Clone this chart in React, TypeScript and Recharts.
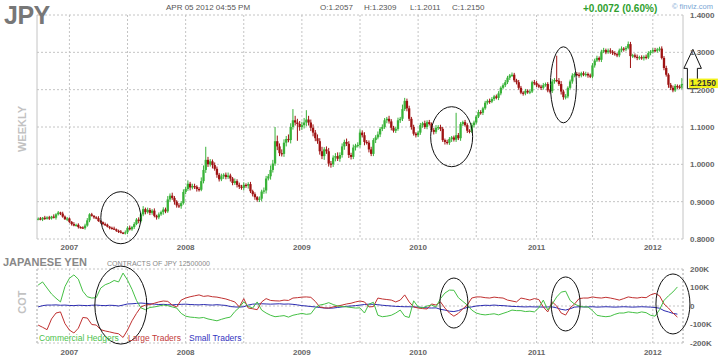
import React from "react";
import {
  ComposedChart, LineChart, Bar, Line, XAxis, YAxis, CartesianGrid,
  ReferenceLine, ReferenceDot,
} from "recharts";

const FONT = '"Liberation Sans", Arial, sans-serif';

// weekly closes of JPY futures, one array per calendar year (first week: 2006-09-29)
const close2006 = [0.855, 0.852, 0.857, 0.854, 0.858, 0.855, 0.860, 0.857, 0.866, 0.871, 0.868, 0.860, 0.853, 0.855];
const close2007 = [
  0.846, 0.840, 0.836, 0.838, 0.832, 0.831, 0.829, 0.836, 0.850, 0.866, 0.862, 0.858, 0.856, 0.848, 0.845, 0.840,
  0.838, 0.833, 0.830, 0.828, 0.826, 0.822, 0.820, 0.817, 0.816, 0.818, 0.830, 0.826, 0.832, 0.840, 0.852, 0.848,
  0.866, 0.880, 0.872, 0.878, 0.870, 0.876, 0.862, 0.858, 0.866, 0.872, 0.879, 0.874, 0.906, 0.916, 0.910, 0.900,
  0.890, 0.888, 0.896, 0.926,
];
const close2008 = [
  0.934, 0.948, 0.938, 0.942, 0.940, 0.934, 0.932, 0.955, 0.985, 1.012, 1.000, 1.008, 0.998, 0.988, 0.972, 0.960,
  0.968, 0.972, 0.966, 0.970, 0.962, 0.950, 0.955, 0.945, 0.940, 0.937, 0.945, 0.943, 0.947, 0.928, 0.920, 0.912,
  0.905, 0.908, 0.927, 0.930, 0.962, 0.968, 0.985, 1.002, 1.062, 1.048, 1.030, 1.028, 1.058, 1.068, 1.065, 1.100,
  1.118, 1.112, 1.108, 1.100,
];
const close2009 = [
  1.105, 1.112, 1.120, 1.112, 1.098, 1.085, 1.070, 1.062, 1.035, 1.022, 1.040, 1.035, 1.002, 1.000, 1.018, 1.022,
  1.015, 1.025, 1.048, 1.060, 1.055, 1.025, 1.020, 1.045, 1.050, 1.052, 1.085, 1.078, 1.060, 1.058, 1.040, 1.028,
  1.065, 1.072, 1.080, 1.095, 1.100, 1.118, 1.122, 1.115, 1.098, 1.090, 1.095, 1.118, 1.122, 1.148, 1.170, 1.150,
  1.122, 1.100, 1.082, 1.078,
];
const close2010 = [
  1.085, 1.105, 1.110, 1.100, 1.113, 1.108, 1.092, 1.087, 1.098, 1.100, 1.095, 1.065, 1.060, 1.058, 1.068, 1.072,
  1.066, 1.078, 1.070, 1.108, 1.113, 1.105, 1.090, 1.088, 1.105, 1.112, 1.128, 1.140, 1.138, 1.150, 1.165, 1.170,
  1.168, 1.175, 1.182, 1.178, 1.190, 1.205, 1.212, 1.220, 1.232, 1.238, 1.240, 1.225, 1.220, 1.205, 1.192, 1.190,
  1.197, 1.193, 1.195, 1.220, 1.218,
];
const close2011 = [
  1.212, 1.208, 1.205, 1.212, 1.215, 1.198, 1.196, 1.222, 1.226, 1.224, 1.215, 1.195, 1.180, 1.182, 1.205, 1.222,
  1.238, 1.242, 1.240, 1.238, 1.244, 1.240, 1.242, 1.238, 1.235, 1.265, 1.278, 1.285, 1.280, 1.302, 1.306, 1.300,
  1.305, 1.302, 1.298, 1.295, 1.292, 1.305, 1.310, 1.308, 1.312, 1.322, 1.290, 1.292, 1.288, 1.285, 1.287, 1.284,
  1.288, 1.286, 1.298, 1.302,
];
const close2012 = [1.306, 1.304, 1.308, 1.310, 1.285, 1.258, 1.240, 1.213, 1.205, 1.198, 1.210, 1.208, 1.206, 1.215];
const firstOpen = 0.853;

// wick lengths above / below the candle body, in 0.001
const wickUp = [
  3, 4, 2, 5, 3, 4, 2, 6, 3, 4, 2, 5, 3, 4, 3, 2, 5, 3, 4, 2, 3, 5, 6, 3, 4, 2, 3, 5, 3, 2,
  4, 3, 2, 3, 5, 2, 3, 4, 2, 5, 4, 6, 3, 5, 4, 6, 5, 8, 4, 6, 5, 4, 6, 3, 5, 4, 6, 5, 9, 6,
  8, 5, 4, 6, 5, 7, 6, 9, 5, 6, 6, 4, 5, 10, 12, 35, 8, 6, 5, 7, 6, 5, 7, 4, 6, 8, 5, 4, 7, 5,
  6, 5, 7, 4, 5, 6, 4, 5, 3, 6, 5, 8, 7, 6, 12, 10, 38, 15, 8, 10, 9, 8, 12, 10, 30, 12, 10, 8, 9, 12,
  25, 10, 8, 9, 7, 10, 8, 12, 6, 8, 9, 7, 6, 8, 10, 7, 8, 6, 9, 7, 6, 8, 5, 7, 9, 6, 8, 5, 6, 7,
  5, 6, 8, 5, 7, 6, 5, 8, 6, 5, 6, 7, 5, 12, 8, 6, 7, 5, 6, 4, 5, 6, 4, 7, 5, 6, 4, 5, 7, 5,
  6, 5, 4, 6, 5, 4, 5, 60, 6, 5, 4, 6, 5, 4, 6, 5, 4, 6, 5, 4, 5, 4, 6, 5, 4, 5, 6, 4, 5, 6,
  5, 4, 6, 5, 4, 6, 5, 4, 5, 4, 5, 4, 6, 5, 4, 5, 6, 4, 5, 4, 6, 5, 65, 7, 8, 5, 6, 4, 5, 6,
  4, 5, 6, 4, 5, 6, 4, 5, 6, 5, 6, 4, 5, 6, 4, 5, 6, 4, 5, 4, 5, 6, 4, 5, 7, 6, 4, 5, 6, 4,
  5, 4, 6, 5, 4, 5, 6, 4, 5, 6, 5, 6, 4, 5, 6, 5, 4, 5, 16,
];
const wickDown = [
  3, 2, 4, 3, 2, 4, 3, 2, 5, 3, 4, 3, 2, 5, 3, 4, 2, 3, 4, 3, 2, 4, 3, 5, 2, 4, 3, 2, 4, 3,
  3, 2, 4, 3, 2, 3, 4, 2, 3, 4, 5, 3, 4, 5, 3, 6, 4, 5, 6, 4, 6, 5, 4, 6, 5, 4, 7, 5, 4, 6,
  5, 8, 6, 5, 7, 4, 6, 5, 8, 5, 6, 7, 5, 4, 6, 8, 7, 6, 9, 5, 8, 6, 5, 7, 6, 5, 8, 6, 5, 7,
  6, 5, 7, 6, 8, 5, 6, 7, 5, 6, 7, 6, 8, 5, 9, 7, 6, 10, 8, 7, 8, 10, 6, 9, 7, 8, 45, 10, 8, 9,
  10, 8, 9, 10, 8, 7, 9, 8, 10, 7, 8, 9, 7, 10, 6, 8, 7, 9, 6, 8, 7, 6, 8, 5, 7, 6, 9, 5, 8, 6,
  6, 8, 5, 7, 6, 5, 8, 6, 7, 5, 6, 5, 7, 6, 5, 8, 6, 7, 5, 6, 5, 6, 7, 5, 6, 4, 5, 7, 5, 6,
  6, 5, 7, 5, 6, 8, 5, 6, 5, 7, 5, 4, 6, 5, 4, 6, 5, 4, 5, 6, 4, 5, 6, 4, 5, 4, 6, 5, 4, 5,
  5, 6, 4, 5, 6, 5, 4, 6, 5, 4, 5, 4, 6, 5, 4, 6, 5, 4, 5, 6, 5, 6, 4, 5, 8, 7, 6, 5, 4, 6,
  5, 4, 6, 5, 4, 5, 6, 4, 5, 6, 4, 5, 6, 4, 5, 4, 6, 5, 4, 5, 5, 4, 6, 5, 4, 32, 5, 4, 6, 5,
  4, 6, 5, 4, 6, 5, 4, 5, 6, 4, 6, 5, 8, 6, 5, 4, 6, 5, 5,
];

const priceTicks = [0.8, 0.9, 1.0, 1.1, 1.2, 1.3, 1.4];
const cotTicks = [-200, -100, 0, 100, 200];

// COT net positions, every second week, thousands of contracts
const commercialHedgers = [
  113, 130, 97, 65, 42, 22, 105, 150, 168, 145, 80, 50, 43, 45, 97, 115, 124, 138, 130, 178,
  140, 90, 30, -10, -20, -8, -5, 0, 5, 2, -5, -11, -40, -55, -60, -62, -65, -62, -70, -75,
  -80, -72, -65, -60, -30, -8, 22, -2, -11, 22, -22, -38, -50, -58, -55, -52, -60, -50, -45, -40,
  -45, -42, -10, 5, 10, 18, 8, 0, -3, -5, -8, -11, -10, -38, 10, 20, -50, -58, -55, -50,
  -38, -22, -55, -62, 28, -5, -10, 0, 5, -5, 40, 70, 86, 85, 45, 25, 5, -22, -38, -45,
  -48, -45, -42, -48, -40, -32, -22, -25, -25, -30, -28, -32, -10, 32, -22, 11, 49, 75, 80, 30,
  10, 0, -5, -5, -25, -50, -55, -58, -55, -45, -38, -38, -32, -35, -38, -32, -36, -50, -55, -20,
  30, 55, 76, 103,
];
const largeTraders = [
  -103, -115, -128, -70, -38, -32, -95, -130, -146, -120, -62, -65, -100, -103, -128, -135, -140, -146, -150, -170,
  -130, -80, -40, -5, 5, 8, 15, 22, 27, 25, 5, -5, 32, 43, 50, 55, 60, 52, 55, 50,
  48, 43, 38, 30, 22, -5, 40, -11, -15, -20, 22, 40, 30, 28, 27, 32, 30, 43, 45, 48,
  49, 47, 25, -5, -10, -11, -5, 0, 5, 11, 15, 22, 27, 22, -5, -3, 43, 38, 35, 32,
  22, 32, 60, 22, -5, -11, -14, -16, 11, 5, 22, -11, -38, -55, -40, -15, 5, 43, 49, 49,
  45, 43, 48, 45, 43, 32, 27, 22, 43, 38, 32, 40, 35, -5, -32, 22, 0, -38, -49, -10,
  11, 40, 43, 43, 49, 45, 43, 47, 43, 38, 32, 40, 49, 45, 43, 47, 45, 60, 68, 55,
  11, -11, -38, -60,
];
const smallTraders = [
  -5, 2, 5, 5, 6, 4, 5, 3, 2, 4, 3, 2, 4, 5, 3, 2, 4, 3, 0, 5,
  11, 12, 14, 16, 14, 12, 10, 8, 9, 7, 6, 8, 9, 10, 8, 7, 6, 8, 6, 5,
  7, 5, 3, -3, -5, -6, -4, 5, 10, 11, 12, 11, 10, 11, 12, 10, 11, 9, 6, 2,
  0, -3, -5, -8, -11, -12, -11, -8, -5, -2, 0, 2, 5, 8, 10, 9, 7, 4, 2, 0,
  -2, -3, -4, -4, -5, -6, -8, -10, -11, -10, -18, -22, -28, -30, -25, -15, -8, -5, 0, 2,
  4, 3, 5, 3, 2, 0, -2, -3, -4, -5, -4, -5, -5, -6, -5, -5, -10, -18, -22, -15,
  -6, -4, -5, -5, -4, -6, -5, -4, -5, -6, -5, -4, -5, -6, -5, -4, -5, -6, -8, -12,
  -25, -32, -40, -44,
];

const legendItems = [
  { label: "Commercial Hedgers", color: "#4cbf4c", x: 39 },
  { label: "Large Traders", color: "#c23a3a", x: 128 },
  { label: "Small Traders", color: "#3434c0", x: 189 },
];

// hand-drawn circles: week index, value, radii
const priceCircles = [
  { week: 37, value: 0.857, rx: 20, ry: 26 },
  { week: 185, value: 1.074, rx: 21, ry: 30 },
  { week: 235, value: 1.213, rx: 13, ry: 38 },
];
const cotCircles = [
  { week: 37, value: 5, rx: 26, ry: 39 },
  { week: 186, value: 16, rx: 14, ry: 25 },
  { week: 236, value: 11, rx: 14.5, ry: 27 },
  { week: 284, value: 11, rx: 17, ry: 30 },
];
const lastClose = 1.215;
const arrowTop = 1.308;
const arrowBottom = 1.2025;

const closes = [...close2006, ...close2007, ...close2008, ...close2009, ...close2010, ...close2011, ...close2012];
const weekDate = (i: number) => new Date(Date.UTC(2006, 8, 29 + 7 * i));
const lastWeek = closes.length - 1;

const candles = closes.map((c, i) => {
  const open = i === 0 ? firstOpen : closes[i - 1];
  return {
    idx: i,
    open,
    close: c,
    high: Math.max(open, c) + wickUp[i] / 1000,
    low: Math.min(open, c) - wickDown[i] / 1000,
  };
});

const cotData = commercialHedgers.map((v, k) => ({
  idx: 2 * k,
  commercial: v,
  large: largeTraders[k],
  small: smallTraders[k],
}));

const gridWeeks = closes
  .map((_, i) => i)
  .filter((i) => {
    const d = weekDate(i);
    return (d.getUTCMonth() === 0 || d.getUTCMonth() === 6) && d.getUTCDate() <= 7;
  });
const yearLabel = (i: number) => {
  const d = weekDate(Math.round(i));
  return d.getUTCMonth() === 0 ? String(d.getUTCFullYear()) : "";
};

const UP = "#38b238";
const DOWN = "#9e1212";
const GRID = "#c4c4c4";
const tickStyle = { fontSize: 8, fontWeight: "bold" as const, fill: "#666", fontFamily: FONT };

const Candle = (props: any) => {
  const { x, y, width, height, payload } = props;
  if (!payload || height == null) return null;
  const { open, close, high, low } = payload;
  const top = Math.min(y, y + height);
  const h = Math.abs(height);
  const k = h / (high - low);
  const yO = top + (high - open) * k;
  const yC = top + (high - close) * k;
  const color = close >= open ? UP : DOWN;
  const cx = x + width / 2;
  const bw = Math.max(width + 0.3, 2.1);
  return (
    <g>
      <line x1={cx} x2={cx} y1={top} y2={top + h} stroke={color} strokeWidth={1} />
      <rect x={cx - bw / 2} y={Math.min(yO, yC)} width={bw} height={Math.max(Math.abs(yC - yO), 1.2)} fill={color} />
    </g>
  );
};

const ellipse = (rx: number, ry: number) => (p: any) => (
  <ellipse cx={p.cx} cy={p.cy} rx={rx} ry={ry} fill="none" stroke="#111" strokeWidth={1} />
);

const Arrow = (p: any) => {
  const ax = Math.max(p.x1, p.x2) + 11;
  const yT = Math.min(p.y1, p.y2);
  const yB = Math.max(p.y1, p.y2);
  const pts = [
    [ax, yT], [ax + 8.5, yT + 19], [ax + 4.5, yT + 19], [ax + 4.5, yB],
    [ax - 5.5, yB], [ax - 5.5, yT + 19], [ax - 9, yT + 19],
  ].map((q) => q.join(",")).join(" ");
  return <polygon points={pts} fill="#fff" stroke="#111" strokeWidth={1} />;
};

const LastPrice = (p: any) => (
  <g>
    <rect x={p.cx + 7} y={p.cy - 5.5} width={29} height={9.5} fill="#f2f21a" />
    <text x={p.cx + 8} y={p.cy + 2} fontSize={8.5} fontWeight="bold" fill="#333" fontFamily={FONT}>
      {lastClose.toFixed(4)}
    </text>
  </g>
);

export default function App() {
  return (
    <div style={{ position: "absolute", left: 0, top: 0, width: 720, height: 359, background: "#fff", fontFamily: FONT }}>
      <div style={{ position: "absolute", left: 0, top: 0 }}>
        <ComposedChart width={720} height={255} data={candles} margin={{ top: 15, right: 0, bottom: 0, left: 37 }} barCategoryGap="5%">
          <CartesianGrid stroke={GRID} strokeDasharray="2 2" />
          <XAxis dataKey="idx" type="category" ticks={gridWeeks} interval={0} tickFormatter={yearLabel}
            axisLine={false} tickLine={false} tickSize={3} tickMargin={2} height={16} tick={tickStyle} />
          <YAxis orientation="right" domain={[0.8, 1.4]} ticks={priceTicks} allowDataOverflow width={37}
            axisLine={false} tickLine={false} tickSize={5} tickMargin={2} tick={{ ...tickStyle, textAnchor: "start" }}
            tickFormatter={(v: number) => v.toFixed(4)} />
          <ReferenceLine x={0} position="start" stroke={GRID} strokeDasharray="2 2" />
          <ReferenceLine x={lastWeek} position="end" stroke={GRID} strokeDasharray="2 2" />
          <Bar dataKey={(d: any) => [d.low, d.high]} shape={<Candle />} isAnimationActive={false} />
          {priceCircles.map((c) => (
            <ReferenceDot key={c.week} x={c.week} y={c.value} ifOverflow="visible" shape={ellipse(c.rx, c.ry)} />
          ))}
          <ReferenceLine segment={[{ x: lastWeek, y: arrowBottom }, { x: lastWeek, y: arrowTop }]}
            ifOverflow="visible" shape={Arrow} />
          <ReferenceDot x={lastWeek} y={lastClose} ifOverflow="visible" shape={LastPrice} />
        </ComposedChart>
      </div>
      <div style={{ position: "absolute", left: 0, top: 255 }}>
        <LineChart width={720} height={104} data={cotData} margin={{ top: 14, right: 0, bottom: 0, left: 37 }}>
          <CartesianGrid stroke={GRID} strokeDasharray="2 2" />
          <XAxis dataKey="idx" type="number" domain={[-0.5, lastWeek + 0.5]} ticks={gridWeeks} interval={0}
            tickFormatter={yearLabel} axisLine={false} tickLine={false} tickSize={4} tickMargin={2} height={16} tick={tickStyle} />
          <YAxis orientation="right" domain={[-200, 200]} ticks={cotTicks} width={37} axisLine={false} tickLine={false}
            tickSize={5} tickMargin={2} tick={{ ...tickStyle, textAnchor: "start" }}
            tickFormatter={(v: number) => (v === 0 ? "0" : `${v}K`)} />
          <ReferenceLine x={-0.5} stroke={GRID} strokeDasharray="2 2" />
          <ReferenceLine x={lastWeek + 0.5} stroke={GRID} strokeDasharray="2 2" />
          <Line dataKey="small" stroke="#2a2ab0" strokeWidth={1} dot={false} isAnimationActive={false} />
          <Line dataKey="large" stroke="#c03030" strokeWidth={1} dot={false} isAnimationActive={false} />
          <Line dataKey="commercial" stroke="#44c044" strokeWidth={1} dot={false} isAnimationActive={false} />
          {cotCircles.map((c) => (
            <ReferenceDot key={c.week} x={c.week} y={c.value} ifOverflow="visible" shape={ellipse(c.rx, c.ry)} />
          ))}
        </LineChart>
      </div>
      <svg width={720} height={359} style={{ position: "absolute", left: 0, top: 0, pointerEvents: "none" }} fontFamily={FONT}>
        <text x={4} y={24} fontSize={25} fontWeight="bold" fill="#777" letterSpacing={-0.5}>JPY</text>
        <text x={166} y={10} fontSize={8} fill="#555">APR 05 2012 04:55 PM</text>
        <text x={320} y={10} fontSize={8} fill="#555">O:1.2057</text>
        <text x={364} y={10} fontSize={8} fill="#555">H:1.2309</text>
        <text x={410} y={10} fontSize={8} fill="#555">L:1.2011</text>
        <text x={452} y={10} fontSize={8} fill="#555">C:1.2150</text>
        <text x={583} y={12} fontSize={10} fontWeight="bold" fill="#2f9f2f">+0.0072 (0.60%)</text>
        <text x={672} y={9} fontSize={7.5} fill="#7aa6d4">© finviz.com</text>
        <text x={22} y={129} fontSize={11} fontWeight="bold" fill="#c2c2c2" textAnchor="middle"
          dominantBaseline="central" transform="rotate(-90 22 129)">WEEKLY</text>
        <text x={3} y={266} fontSize={11} fontWeight="bold" fill="#888">JAPANESE YEN</text>
        <text x={107} y={266} fontSize={7} fill="#888">CONTRACTS OF JPY 12500000</text>
        <text x={22} y={302} fontSize={11} fontWeight="bold" fill="#c2c2c2" textAnchor="middle"
          dominantBaseline="central" transform="rotate(-90 22 302)">COT</text>
        {legendItems.map((l) => (
          <text key={l.label} x={l.x} y={341} fontSize={8.5} fill={l.color}>{l.label}</text>
        ))}
      </svg>
    </div>
  );
}
